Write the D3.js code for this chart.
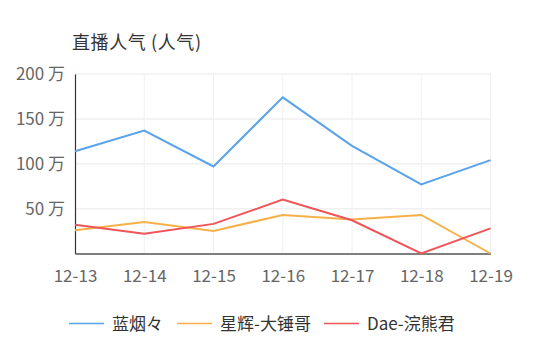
<!DOCTYPE html>
<html><head><meta charset="utf-8">
<script src="https://cdn.jsdelivr.net/npm/d3@7/dist/d3.min.js"></script>
<style>body{margin:0;background:#fff;} text{font-family:"Noto Sans CJK SC","Noto Sans",sans-serif;font-weight:400;}</style>
</head><body>
<svg id="c" width="533" height="356"></svg>
<script>
const categories = ["12-13","12-14","12-15","12-16","12-17","12-18","12-19"];
const seriesNames = ["蓝烟々","星辉-大锤哥","Dae-浣熊君"];
const blueValues = [114, 137, 97, 174, 120, 77, 104];
const orangeValues = [26, 35, 25, 43, 38, 43, 0];
const redValues = [32, 22, 33, 60, 37, 0, 28];
const yTicks = [0, 50, 100, 150, 200];
const yTickLabels = ["", "50 万", "100 万", "150 万", "200 万"];
const colors = ["#58a3ea", "#f7b047", "#ef5558"];
const title = "直播人气 (人气)";

const svg = d3.select("#c");
const m = {l:75, r:490.5, t:74, b:253.5};
const x = d3.scalePoint().domain(categories).range([m.l, m.r]);
const y = d3.scaleLinear().domain([0,200]).range([m.b, m.t]);

// grid
const g = svg.append("g");
g.selectAll(".hg").data(yTicks.slice(1)).enter().append("line")
  .attr("x1", m.l).attr("x2", m.r).attr("y1", d=>y(d)).attr("y2", d=>y(d))
  .attr("stroke", "#f0f0f0").attr("stroke-width", 1.5);
g.selectAll(".vg").data(categories.slice(1)).enter().append("line")
  .attr("x1", d=>x(d)).attr("x2", d=>x(d)).attr("y1", m.t).attr("y2", m.b)
  .attr("stroke", "#f0f0f0").attr("stroke-width", 1);

// axes
const yAxis = svg.append("g").attr("transform", `translate(${m.l},0)`)
  .call(d3.axisLeft(y).tickValues(yTicks).tickSize(0).tickPadding(10).tickFormat((d,i)=>yTickLabels[i]));
yAxis.select(".domain").attr("stroke", "#333").attr("stroke-width", 1.2);
yAxis.selectAll("text").attr("fill", "#666").style("font-size", "17px");

const xAxis = svg.append("g").attr("transform", `translate(0,${m.b})`)
  .call(d3.axisBottom(x).tickSize(0).tickPadding(16));
xAxis.select(".domain").attr("stroke", "#555").attr("stroke-width", 1.5);
xAxis.selectAll("text").attr("fill", "#666").style("font-size", "17px");

// lines
const all = [blueValues, orangeValues, redValues];
const line = d3.line().x((d,i)=>x(categories[i])).y(d=>y(d));
all.forEach((vals, k) => {
  svg.append("path").datum(vals).attr("d", line)
    .attr("fill", "none").attr("stroke", colors[k]).attr("stroke-width", 2)
    .attr("stroke-linejoin", "miter");
});

// title
svg.append("text").attr("x", 72).attr("y", 49).text(title)
  .attr("fill", "#333").style("font-size", "18px").style("letter-spacing", "0.6px");

// legend
const legX = [69, 177, 324];
seriesNames.forEach((n, k) => {
  svg.append("line").attr("x1", legX[k]).attr("x2", legX[k]+35)
    .attr("y1", 323.5).attr("y2", 323.5).attr("stroke", colors[k]).attr("stroke-width", 1.5);
  svg.append("text").attr("x", legX[k]+43).attr("y", 329.5).text(n)
    .attr("fill", "#333").style("font-size", "17px");
});
</script>
</body></html>
